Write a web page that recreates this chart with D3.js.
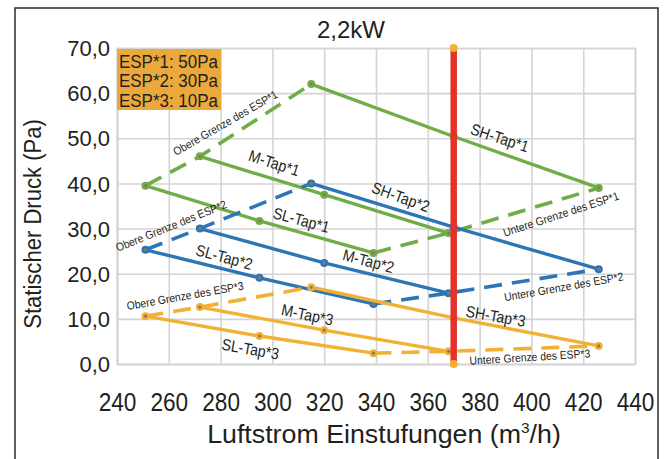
<!DOCTYPE html>
<html>
<head>
<meta charset="utf-8">
<script src="https://cdn.jsdelivr.net/npm/d3@7"></script>
<style>
  body { margin: 0; background: #fff; }
  svg { display: block; }
  text { font-family: "Liberation Sans", Arial, sans-serif; fill: #231f20; }
</style>
</head>
<body>
<svg id="chart" width="665" height="459"></svg>
<script>
// ---- data -------------------------------------------------------------
const chartTitle = "2,2kW";
const espNames = ["ESP*1", "ESP*2", "ESP*3"];
const espPressure = [50, 30, 10];          // Pa, legend
const tapNames = ["SL-Tap", "M-Tap", "SH-Tap"];

// airflow (m³/h) of the three points along each tap curve
const flowSL = [251, 295, 339];
const flowM  = [272, 320, 368];
const flowSH = [315, 370, 426];

// static pressure (Pa) at those points, per ESP setting
const esp1SL = [39.5, 31.7, 24.6];
const esp1M  = [46.0, 37.5, 29.0];
const esp1SH = [62.0, 50.4, 39.0];
const esp2SL = [25.3, 19.1, 13.3];
const esp2M  = [30.0, 22.4, 15.7];
const esp2SH = [40.0, 30.3, 21.0];
const esp3SL = [10.6, 6.2, 2.4];
const esp3M  = [12.6, 7.5, 2.8];
const esp3SH = [17.0, 10.2, 4.0];

const ratedFlow = 370;                      // vertical marker
const xTicks = [240, 260, 280, 300, 320, 340, 360, 380, 400, 420, 440];
const yTicks = [0, 10, 20, 30, 40, 50, 60, 70];

// ---- styles -----------------------------------------------------------
const espColors = ["#70ad47", "#2e75b6", "#f2b134"];
const gridColor = "#d4d4d4";

// ---- scales -----------------------------------------------------------
const svg = d3.select("#chart");
const x = d3.scaleLinear().domain([240, 440]).range([117, 635]);
const y = d3.scaleLinear().domain([0, 70]).range([364, 48]);
const plotW = x.range()[1] - x.range()[0];
const plotH = y.range()[0] - y.range()[1];

// outer frame
svg.append("rect")
  .attr("x", 15).attr("y", 8).attr("width", 643).attr("height", 470)
  .attr("fill", "none").attr("stroke", "#2b2b2b").attr("stroke-width", 1.5);

// title
svg.append("text")
  .attr("x", 351).attr("y", 38)
  .attr("text-anchor", "middle")
  .attr("font-size", 24)
  .text(chartTitle);

// ---- axes + grid ------------------------------------------------------
const xAxis = svg.append("g")
  .attr("transform", `translate(0,${y(0)})`)
  .call(d3.axisBottom(x).tickValues(xTicks).tickSize(-plotH).tickFormat(d3.format("d")));
const yAxis = svg.append("g")
  .attr("transform", `translate(${x(240)},0)`)
  .call(d3.axisLeft(y).tickValues(yTicks).tickSize(-plotW)
    .tickFormat(d => d.toFixed(1).replace(".", ",")));

[xAxis, yAxis].forEach(g => {
  g.select(".domain").attr("stroke", gridColor).attr("stroke-width", 1.6);
  g.selectAll(".tick line").attr("stroke", gridColor).attr("stroke-width", 1.6);
  g.selectAll("text").attr("fill", "#231f20").attr("font-family", '"Liberation Sans", Arial, sans-serif');
});
xAxis.selectAll(".tick text")
  .attr("y", 47).attr("dy", 0)
  .attr("font-size", 26)
  .attr("transform", "scale(0.87,1)");
yAxis.selectAll(".tick text")
  .attr("x", -7).attr("dy", "0.35em")
  .attr("font-size", 22);

// axis titles
const xTitle = svg.append("text")
  .attr("text-anchor", "middle")
  .attr("font-size", 26)
  .attr("transform", "translate(384,443) scale(1.03,1)");
xTitle.append("tspan").text("Luftstrom Einstufungen (m");
xTitle.append("tspan").attr("font-size", 15).attr("dy", -10).text("3");
xTitle.append("tspan").attr("dy", 10).text("/h)");

svg.append("text")
  .attr("text-anchor", "middle")
  .attr("font-size", 23)
  .attr("transform", "translate(41,224) rotate(-90) scale(0.96,1)")
  .text("Statischer Druck (Pa)");

// ---- curves -----------------------------------------------------------
const flows = [flowSL, flowM, flowSH];
const pressures = [
  [esp1SL, esp1M, esp1SH],
  [esp2SL, esp2M, esp2SH],
  [esp3SL, esp3M, esp3SH]
];
const line = d3.line().x(d => x(d[0])).y(d => y(d[1]));
const plot = svg.append("g");

pressures.forEach((taps, e) => {
  const color = espColors[e];
  // upper / lower limits join first and last points of each tap curve
  const upper = taps.map((p, t) => [flows[t][0], p[0]]);
  const lower = taps.map((p, t) => [flows[t][2], p[2]]);
  [upper, lower].forEach(pts => {
    plot.append("path")
      .attr("d", line(pts))
      .attr("fill", "none").attr("stroke", color)
      .attr("stroke-width", 3.6).attr("stroke-dasharray", "18,10");
  });
  taps.forEach((p, t) => {
    const pts = p.map((v, i) => [flows[t][i], v]);
    plot.append("path")
      .attr("d", line(pts))
      .attr("fill", "none").attr("stroke", color).attr("stroke-width", 3.4);
    pts.forEach(d => {
      plot.append("circle").attr("cx", x(d[0])).attr("cy", y(d[1]))
        .attr("r", 4).attr("fill", color);
      plot.append("circle").attr("cx", x(d[0])).attr("cy", y(d[1]))
        .attr("r", 1.6).attr("fill", "#8a7866");
    });
  });
});

// rated airflow marker
plot.append("line")
  .attr("x1", x(ratedFlow)).attr("x2", x(ratedFlow))
  .attr("y1", y(70)).attr("y2", y(0))
  .attr("stroke", "#e2332b").attr("stroke-width", 6.5);
[70, 0].forEach(v => {
  plot.append("circle").attr("cx", x(ratedFlow)).attr("cy", y(v))
    .attr("r", 4).attr("fill", "#f2b134");
});

// ---- legend -----------------------------------------------------------
svg.append("rect")
  .attr("x", 117).attr("y", 49).attr("width", 104).attr("height", 61)
  .attr("fill", "#eba93b");
espNames.forEach((n, i) => {
  svg.append("text")
    .attr("font-size", 17.5)
    .attr("transform", `translate(119,${67.5 + i * 19.6}) scale(0.97,1)`)
    .text(`${n}: ${espPressure[i]}Pa`);
});

// ---- curve annotations (anchored in data units) ----------------------
const tapLabelSpots = [
  [0, 0, 311.2, 31.9, 15], [0, 1, 300.7, 44.5, 18], [0, 2, 387.8, 50.1, 18],
  [1, 0, 281.4, 23.7, 15], [1, 1, 337.1, 22.8, 15], [1, 2, 349.5, 37.0, 20],
  [2, 0, 291.5, 3.3, 10],  [2, 1, 313.5, 10.9, 12], [2, 2, 386.2, 10.6, 10]
];
tapLabelSpots.forEach(([e, t, lx, ly, a]) => {
  svg.append("text")
    .attr("text-anchor", "middle").attr("dy", "0.35em")
    .attr("font-size", 16)
    .attr("transform", `translate(${x(lx)},${y(ly)}) rotate(${a}) scale(0.88,1)`)
    .text(`${tapNames[t]}${espNames[e].slice(3)}`);
});

const limitLabelSpots = [
  ["Obere", 0, 281.8, 53.4, -30], ["Obere", 1, 260.9, 30.6, -22], ["Obere", 2, 266.3, 15.1, -10],
  ["Untere", 0, 411.4, 33.2, -18], ["Untere", 1, 412.5, 17.1, -10], ["Untere", 2, 399.4, 1.55, -3.5]
];
limitLabelSpots.forEach(([kind, e, lx, ly, a]) => {
  svg.append("text")
    .attr("text-anchor", "middle").attr("dy", "0.35em")
    .attr("font-size", 11.5)
    .attr("transform", `translate(${x(lx)},${y(ly)}) rotate(${a}) scale(0.9,1)`)
    .text(`${kind} Grenze des ${espNames[e]}`);
});
</script>
</body>
</html>
